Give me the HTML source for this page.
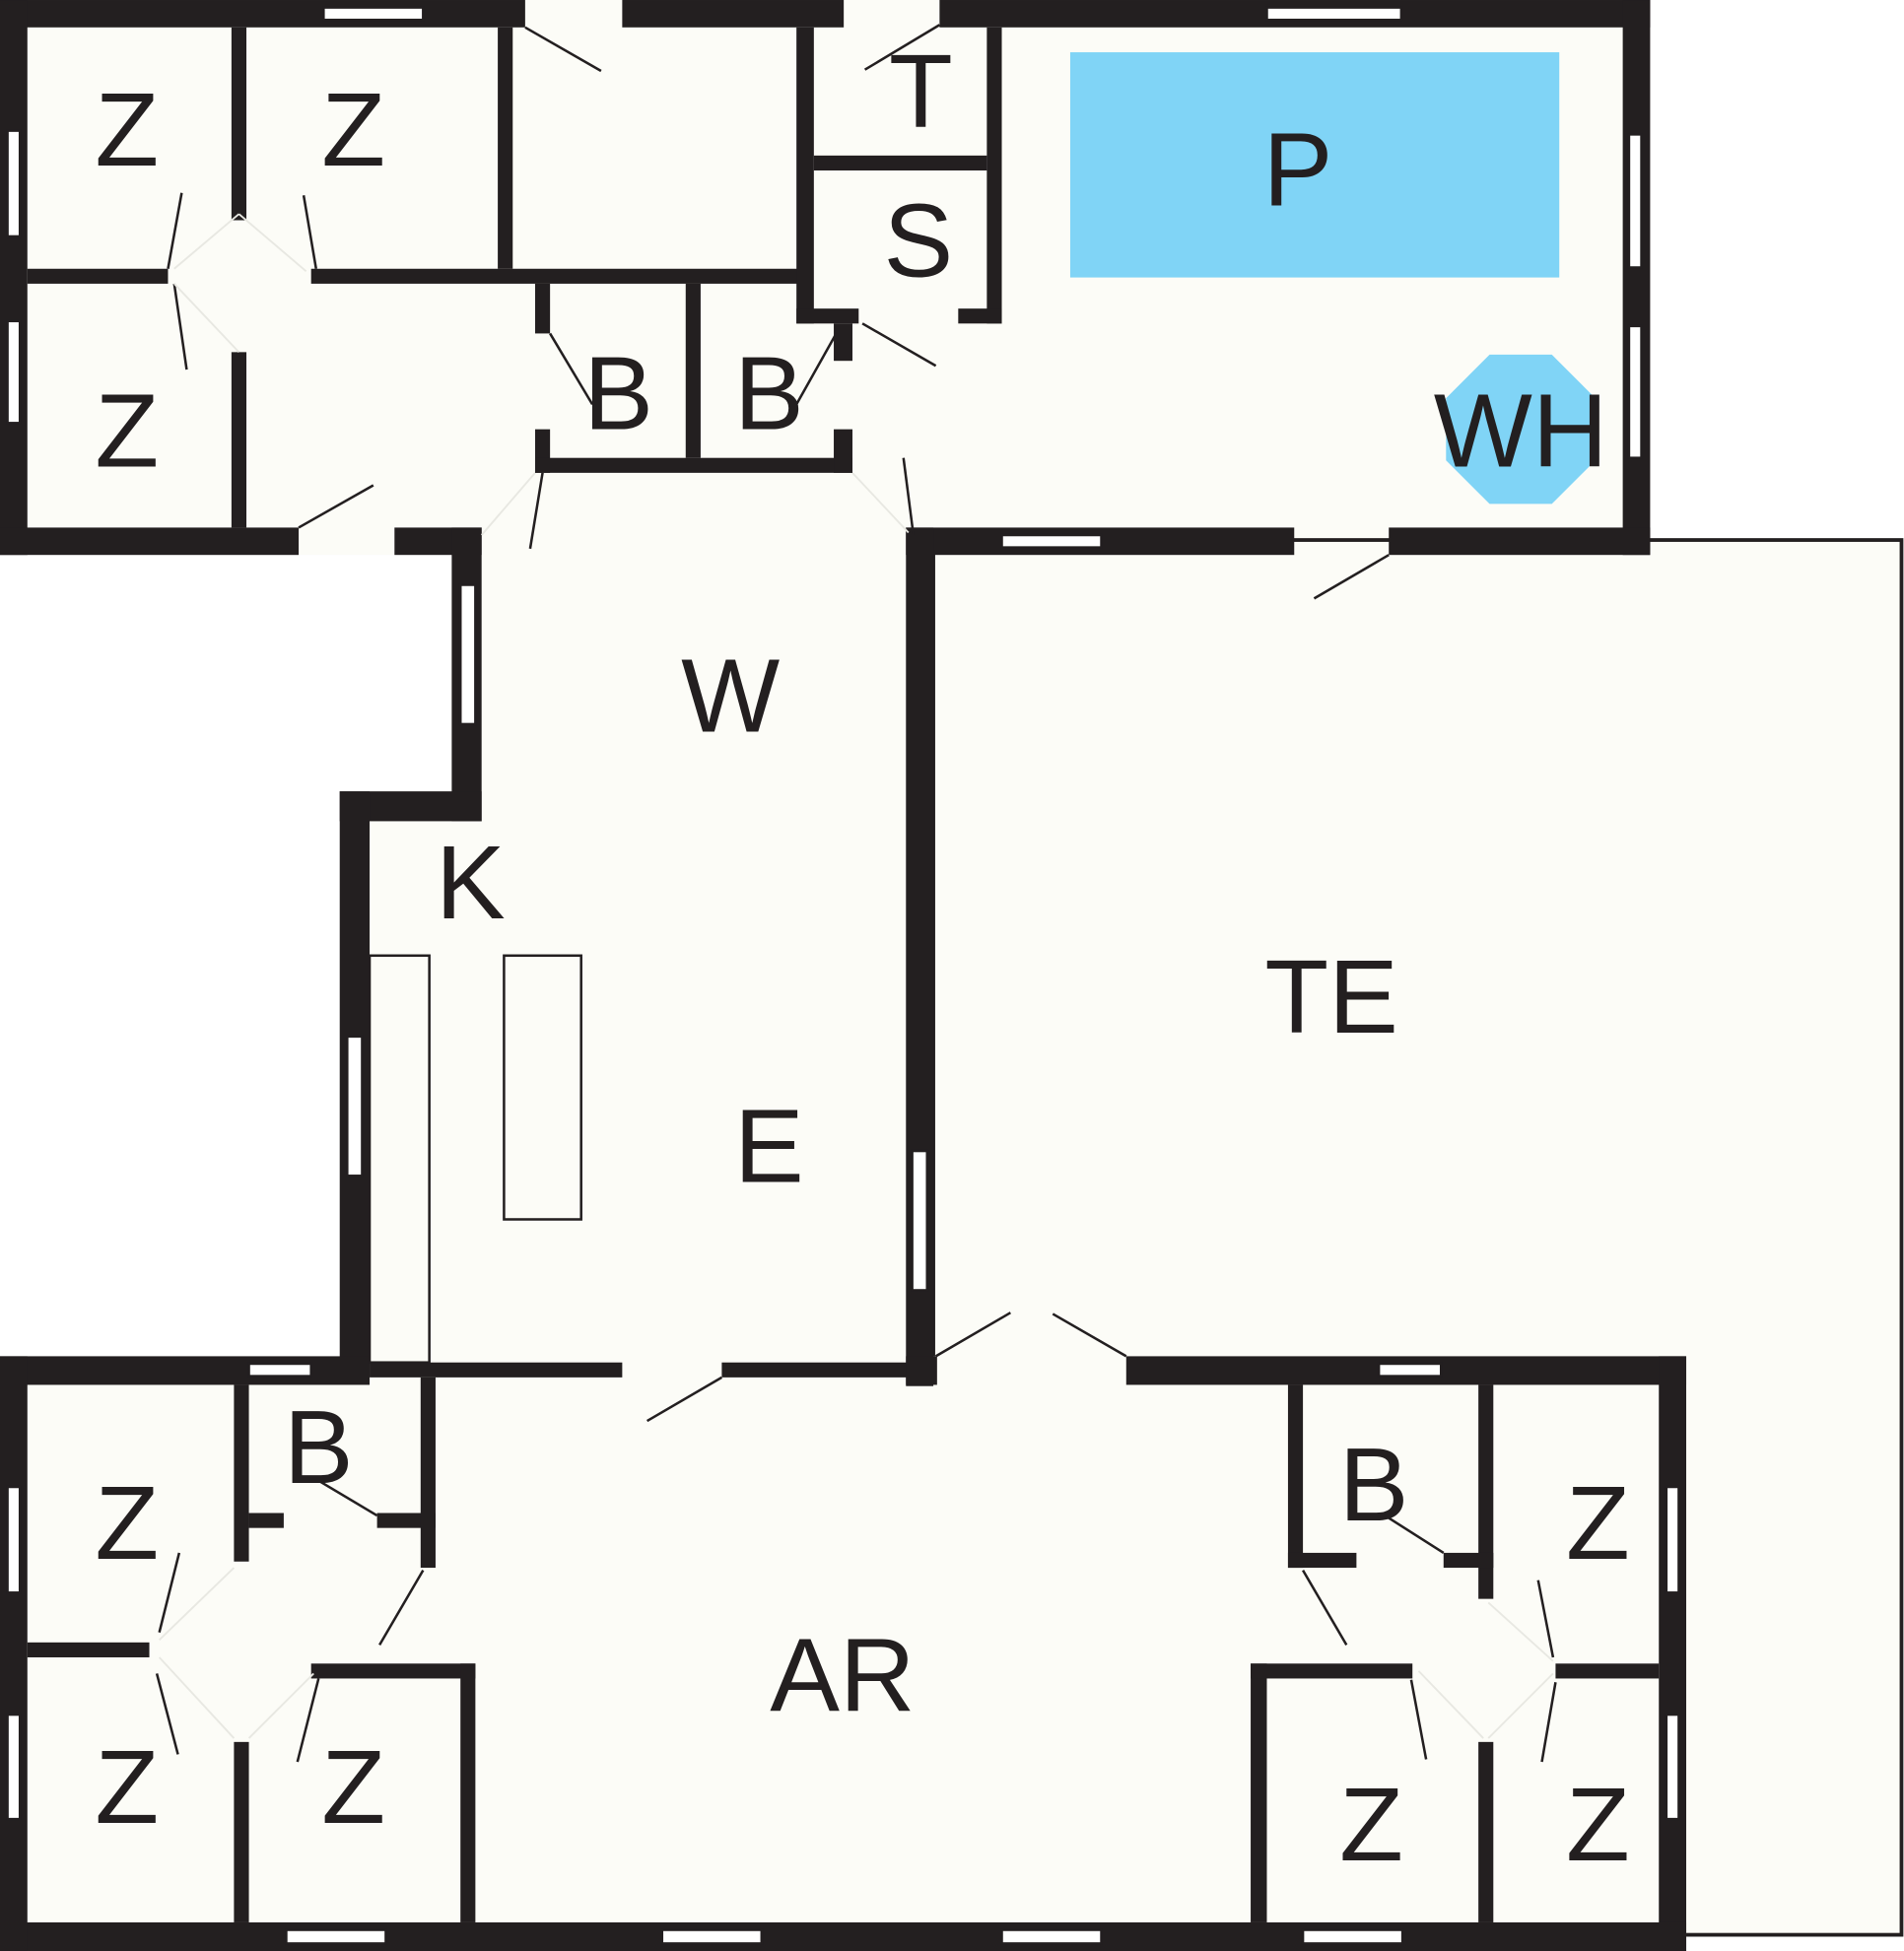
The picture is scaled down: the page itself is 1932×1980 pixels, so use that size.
<!DOCTYPE html>
<html><head><meta charset="utf-8"><style>
html,body{margin:0;padding:0;background:#fff;width:1932px;height:1980px;overflow:hidden}
svg{display:block}
text{font-family:"Liberation Sans",sans-serif;font-size:84px;fill:#231f20;text-anchor:middle}
</style></head><body>
<svg width="1932" height="1980" viewBox="0 0 1530 1568" xmlns="http://www.w3.org/2000/svg">
<!-- floors -->
<g fill="#fcfcf7">
<rect x="0" y="0" width="1326" height="446"/>
<rect x="363" y="424" width="387" height="236"/>
<rect x="273" y="636" width="477" height="470"/>
<rect x="750" y="434" width="778" height="1121" stroke="#231f20" stroke-width="3"/>
<rect x="0" y="1090" width="1355" height="478"/>
</g>
<rect x="860" y="42" width="393" height="181" fill="#80d4f6"/>
<polygon points="1197,285 1247,285 1282,320 1282,370 1247,405 1197,405 1162,370 1162,320" fill="#80d4f6"/>
<g fill="#231f20">
<!-- top block outer -->
<rect x="0" y="0" width="422" height="22"/>
<rect x="500" y="0" width="178" height="22"/>
<rect x="755" y="0" width="571" height="22"/>
<rect x="0" y="0" width="22" height="446"/>
<rect x="1304" y="0" width="22" height="446"/>
<rect x="0" y="424" width="240" height="22"/>
<rect x="317" y="424" width="70" height="22"/>
<rect x="728" y="424" width="312" height="22"/>
<rect x="1116" y="424" width="210" height="22"/>
<!-- top interior -->
<rect x="186" y="22" width="12" height="155"/>
<rect x="186" y="283" width="12" height="141"/>
<rect x="22" y="216" width="113" height="12"/>
<rect x="250" y="216" width="392" height="12"/>
<rect x="400" y="22" width="12" height="194"/>
<rect x="640" y="22" width="14" height="238"/>
<rect x="654" y="125" width="139" height="12"/>
<rect x="793" y="22" width="12" height="238"/>
<rect x="640" y="248" width="50" height="12"/>
<rect x="770" y="248" width="35" height="12"/>
<rect x="430" y="228" width="12" height="40"/>
<rect x="430" y="345" width="12" height="35"/>
<rect x="430" y="368" width="255" height="12"/>
<rect x="551" y="228" width="12" height="140"/>
<rect x="670" y="260" width="15" height="30"/>
<rect x="670" y="345" width="15" height="35"/>
<!-- corridor -->
<rect x="363" y="424" width="24" height="236"/>
<rect x="273" y="636" width="114" height="24"/>
<rect x="273" y="636" width="24" height="470"/>
<rect x="728" y="424" width="22" height="690"/>
<!-- bottom block -->
<rect x="0" y="1090" width="297" height="23"/>
<rect x="297" y="1095" width="203" height="12"/>
<rect x="580" y="1095" width="170" height="12"/>
<rect x="728" y="1090" width="25" height="23"/>
<rect x="905" y="1090" width="450" height="23"/>
<rect x="1333" y="1090" width="22" height="478"/>
<rect x="0" y="1545" width="1355" height="23"/>
<rect x="0" y="1090" width="22" height="478"/>
<rect x="188" y="1113" width="12" height="142"/>
<rect x="200" y="1216" width="28" height="12"/>
<rect x="303" y="1216" width="47" height="12"/>
<rect x="338" y="1107" width="12" height="153"/>
<rect x="22" y="1320" width="98" height="12"/>
<rect x="188" y="1400" width="12" height="145"/>
<rect x="250" y="1337" width="132" height="12"/>
<rect x="370" y="1337" width="12" height="208"/>
<rect x="1005" y="1337" width="13" height="208"/>
<rect x="1005" y="1337" width="130" height="12"/>
<rect x="1188" y="1400" width="12" height="145"/>
<rect x="1188" y="1113" width="12" height="172"/>
<rect x="1250" y="1337" width="83" height="12"/>
<rect x="1035" y="1113" width="12" height="147"/>
<rect x="1035" y="1248" width="55" height="12"/>
<rect x="1160" y="1248" width="40" height="12"/>
</g>
<!-- windows -->
<g fill="#fff" stroke="#231f20" stroke-width="2">
<rect x="260" y="6" width="80" height="10"/>
<rect x="1018" y="6" width="108" height="10"/>
<rect x="6" y="105" width="10" height="85"/>
<rect x="6" y="258" width="10" height="82"/>
<rect x="1309" y="108" width="10" height="107"/>
<rect x="1309" y="262" width="10" height="106"/>
<rect x="805" y="430" width="80" height="10"/>
<rect x="370" y="470" width="12" height="112"/>
<rect x="279" y="833" width="12" height="112"/>
<rect x="733" y="925" width="12" height="112"/>
<rect x="200" y="1096" width="50" height="10"/>
<rect x="1108" y="1096" width="50" height="10"/>
<rect x="6" y="1195" width="10" height="85"/>
<rect x="6" y="1378" width="10" height="84"/>
<rect x="1339" y="1195" width="10" height="85"/>
<rect x="1339" y="1378" width="10" height="84"/>
<rect x="230" y="1551" width="80" height="11"/>
<rect x="532" y="1551" width="80" height="11"/>
<rect x="805" y="1551" width="80" height="11"/>
<rect x="1047" y="1551" width="80" height="11"/>
</g>
<!-- kitchen counters -->
<g fill="none" stroke="#231f20" stroke-width="2">
<rect x="297" y="768" width="48" height="327"/>
<rect x="405" y="768" width="62" height="212"/>
</g>
<!-- door swings -->
<g stroke="#231f20" stroke-width="2" fill="none">
<line x1="422" y1="22" x2="483" y2="57"/>
<line x1="755" y1="20" x2="695" y2="56"/>
<line x1="693" y1="260" x2="752" y2="294"/>
<line x1="300" y1="390" x2="240" y2="424"/>
<line x1="1116" y1="446" x2="1056" y2="481"/>
<line x1="146" y1="155" x2="135" y2="216"/>
<line x1="244" y1="157" x2="254" y2="216"/>
<line x1="140" y1="228" x2="150" y2="297"/>
<line x1="442" y1="268" x2="476" y2="325"/>
<line x1="672" y1="268" x2="640" y2="325"/>
<line x1="436" y1="380" x2="426" y2="441"/>
<line x1="726" y1="368" x2="734" y2="430"/>
<line x1="580" y1="1107" x2="520" y2="1142"/>
<line x1="752" y1="1090" x2="812" y2="1055"/>
<line x1="905" y1="1090" x2="846" y2="1056"/>
<line x1="256" y1="1190" x2="303" y2="1218"/>
<line x1="1116" y1="1220" x2="1160" y2="1248"/>
<line x1="144" y1="1248" x2="128" y2="1312"/>
<line x1="126" y1="1345" x2="143" y2="1410"/>
<line x1="256" y1="1349" x2="239" y2="1416"/>
<line x1="340" y1="1262" x2="305" y2="1322"/>
<line x1="1047" y1="1262" x2="1082" y2="1322"/>
<line x1="1134" y1="1350" x2="1146" y2="1414"/>
<line x1="1236" y1="1270" x2="1248" y2="1332"/>
<line x1="1250" y1="1352" x2="1239" y2="1416"/>
</g>
<g stroke="#e8e8e2" stroke-width="1.5">
<line x1="140" y1="216" x2="192" y2="172"/><line x1="192" y1="172" x2="246" y2="218"/>
<line x1="140" y1="228" x2="192" y2="283"/>
<line x1="387" y1="430" x2="430" y2="380"/><line x1="685" y1="380" x2="730" y2="428"/>
<line x1="128" y1="1318" x2="188" y2="1260"/><line x1="128" y1="1332" x2="188" y2="1397"/>
<line x1="200" y1="1397" x2="252" y2="1345"/><line x1="1140" y1="1343" x2="1192" y2="1397"/>
<line x1="1196" y1="1397" x2="1248" y2="1345"/><line x1="1196" y1="1288" x2="1248" y2="1335"/>
</g>
<text x="102" y="133">Z</text>
<text x="284" y="133">Z</text>
<text x="102" y="375">Z</text>
<text x="740" y="102">T</text>
<text x="738" y="222">S</text>
<text x="1043" y="165">P</text>
<text x="497" y="345">B</text>
<text x="618" y="345">B</text>
<text x="1222" y="375">WH</text>
<text x="587" y="588">W</text>
<text x="378" y="738">K</text>
<text x="1070" y="830">TE</text>
<text x="618" y="950">E</text>
<text x="256" y="1192">B</text>
<text x="1104" y="1222">B</text>
<text x="102" y="1253">Z</text>
<text x="1284" y="1253">Z</text>
<text x="677" y="1375">AR</text>
<text x="102" y="1465">Z</text>
<text x="284" y="1465">Z</text>
<text x="1102" y="1495">Z</text>
<text x="1284" y="1495">Z</text>
</svg>
</body></html>
